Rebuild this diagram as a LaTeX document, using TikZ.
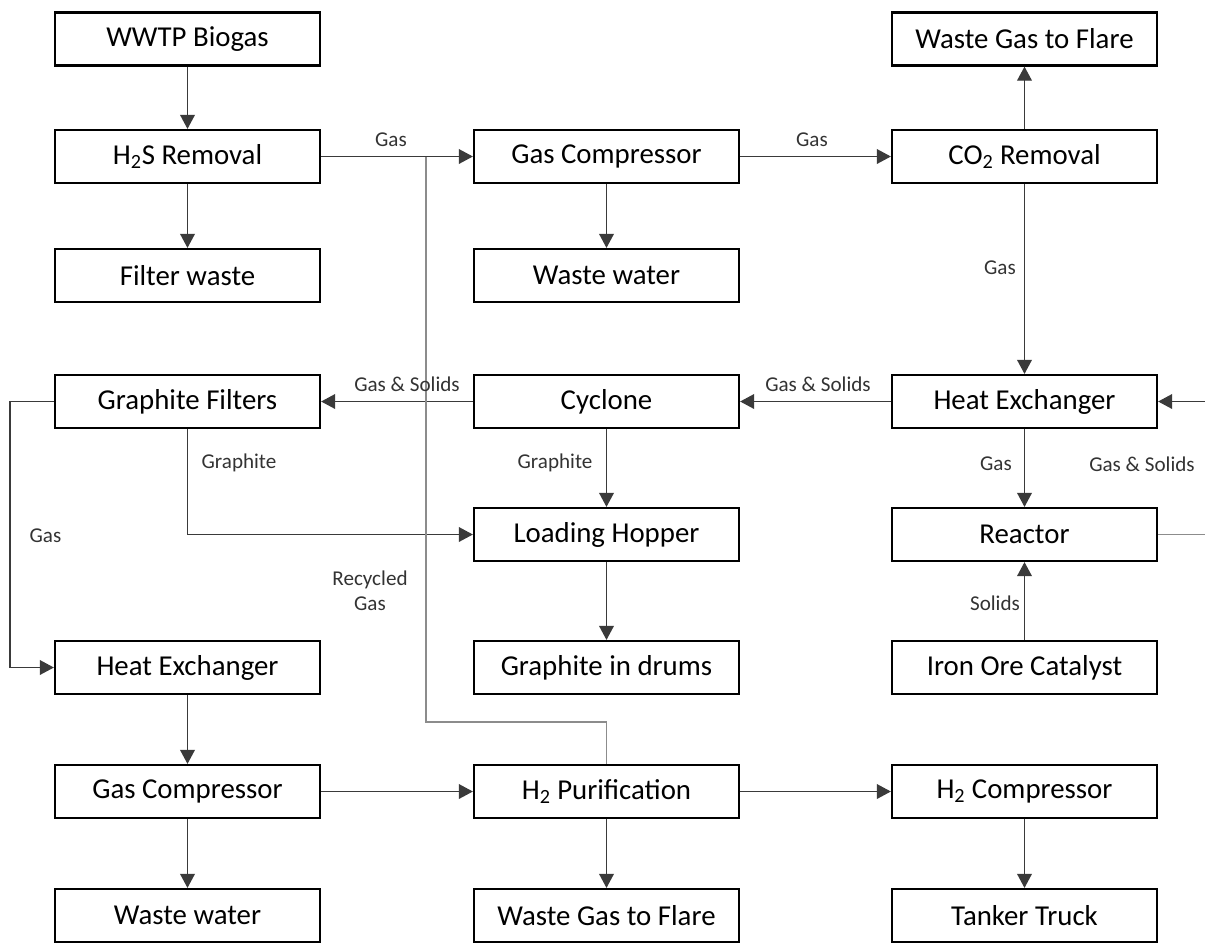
\documentclass[tikz,border=0pt]{standalone}
\usepackage{fontspec}
\setmainfont{Carlito}
\usepackage{xcolor}
\usetikzlibrary{arrows.meta, positioning, calc}
\definecolor{flowline}{HTML}{3A3A3A}
\definecolor{recycle}{HTML}{8C8C8C}

\begin{document}
\begin{tikzpicture}[
    x=0.025cm, y=-0.025cm,
    box/.style={draw, line width=1.7pt, minimum width=6.62cm, minimum height=1.32cm, inner sep=0pt, align=center, font=\fontsize{20.5}{24}\selectfont},
    lbl/.style={font=\fontsize{15}{18}\selectfont, text=black!80, align=center, inner sep=0pt},
    arr/.style={-{Triangle[length=10pt, width=10.5pt]}, line width=0.9pt, draw=flowline},
    pipe/.style={line width=0.9pt, draw=flowline}
]
    \useasboundingbox (0,0) rectangle (1205,943);

    % --- Left column ---
    \node[box] (biogas) at (187.5, 39) {WWTP Biogas};
    \node[box] (h2s) at (187.5, 156.5) {H\textsubscript{2}S Removal};
    \node[box] (fwaste) at (187.5, 275.5) {Filter waste};
    \node[box] (gfilt) at (187.5, 401.5) {Graphite Filters};
    \node[box] (hx1) at (187.5, 667.5) {Heat Exchanger};
    \node[box] (comp1) at (187.5, 791.5) {Gas Compressor};
    \node[box] (wwater1) at (187.5, 915.5) {Waste water};

    % --- Middle column ---
    \node[box] (comp2) at (606.5, 156.5) {Gas Compressor};
    \node[box] (wwater2) at (606.5, 275.5) {Waste water};
    \node[box] (cyclone) at (606.5, 401.5) {Cyclone};
    \node[box] (hopper) at (606.5, 534.5) {Loading Hopper};
    \node[box] (drums) at (606.5, 667.5) {Graphite in drums};
    \node[box] (h2p) at (606.5, 791.5) {H\textsubscript{2} Purification};
    \node[box] (flare2) at (606.5, 915.5) {Waste Gas to Flare};

    % --- Right column ---
    \node[box] (flare1) at (1024.5, 39) {Waste Gas to Flare};
    \node[box] (co2) at (1024.5, 156.5) {CO\textsubscript{2} Removal};
    \node[box] (hx2) at (1024.5, 401.5) {Heat Exchanger};
    \node[box] (reactor) at (1024.5, 534.5) {Reactor};
    \node[box] (ore) at (1024.5, 667.5) {Iron Ore Catalyst};
    \node[box] (h2c) at (1024.5, 791.5) {H\textsubscript{2} Compressor};
    \node[box] (truck) at (1024.5, 915.5) {Tanker Truck};

    % --- Helper points (loop leaves the right edge, recycle tee) ---
    \coordinate (loopin) at (1205, 401.5);
    \coordinate (loopout) at (1205, 534.5);
    \coordinate (tee) at (426, 156.5);
    \coordinate (rbend) at (426, 722);

    % --- Gas train ---
    \draw[arr] (biogas) -- (h2s);
    \draw[arr] (h2s) -- (fwaste);
    \draw[arr] (h2s.east) -- (comp2.west);
    \draw[arr] (comp2) -- (wwater2);
    \draw[arr] (comp2.east) -- (co2.west);
    \draw[arr] (co2) -- (flare1);
    \draw[arr] (co2) -- (hx2);
    \draw[arr] (hx2) -- (reactor);
    \draw[arr] (ore) -- (reactor);
    \draw[pipe, draw=recycle] (reactor.east) -- (loopout);
    \draw[arr] (loopin) -- (hx2.east);
    \draw[arr] (hx2.west) -- (cyclone.east);
    \draw[arr] (cyclone.west) -- (gfilt.east);
    \draw[arr] (cyclone) -- (hopper);
    \draw[arr] (gfilt.south) |- (hopper.west);
    \draw[arr] (hopper) -- (drums);
    \draw[arr] (gfilt.west) -- ++(-44,0) |- (hx1.west);
    \draw[arr] (hx1) -- (comp1);
    \draw[arr] (comp1) -- (wwater1);
    \draw[arr] (comp1.east) -- (h2p.west);
    \draw[arr] (h2p) -- (flare2);
    \draw[arr] (h2p.east) -- (h2c.west);
    \draw[arr] (h2c) -- (truck);

    % --- Recycled gas back to the first compressor line ---
    \draw[pipe, draw=recycle] (h2p.north) |- (rbend) -- (tee);

    % --- Stream labels ---
    \node[lbl] (lgas1) at (391, 140) {Gas};
    \node[lbl] (lgas2) at (812, 140) {Gas};
    \node[lbl] (lgas3) at (1000, 268) {Gas};
    \node[lbl] (lgs1) at (407, 384) {Gas \& Solids};
    \node[lbl] (lgs2) at (818, 384) {Gas \& Solids};
    \node[lbl] (lgs3) at (1142, 464) {Gas \& Solids};
    \node[lbl] (lgas4) at (996, 464) {Gas};
    \node[lbl] (lgr1) at (239, 463) {Graphite};
    \node[lbl] (lgr2) at (555, 463) {Graphite};
    \node[lbl] (lgas5) at (45.5, 536) {Gas};
    \node[lbl] (lrec) at (370, 591) {Recycled\\Gas};
    \node[lbl] (lsol) at (995, 603) {Solids};
\end{tikzpicture}
\end{document}
